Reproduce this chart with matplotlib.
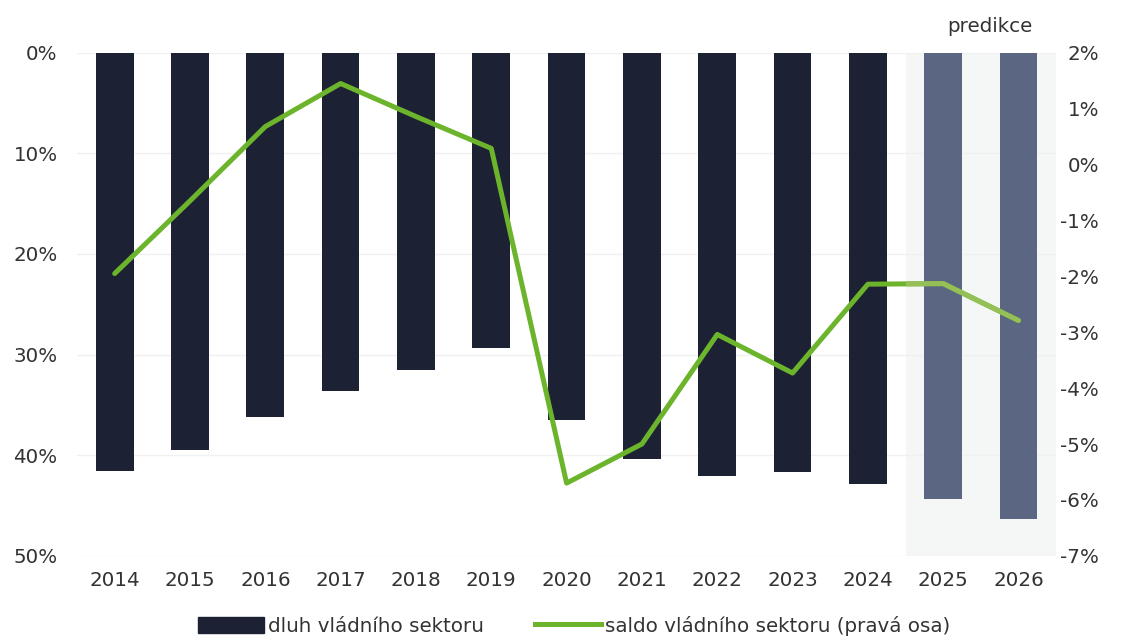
import matplotlib.pyplot as plt
from matplotlib.patches import Patch, Rectangle
from matplotlib.lines import Line2D

plt.rcParams['font.family'] = ['DejaVu Sans']

years = ['2014', '2015', '2016', '2017', '2018', '2019', '2020',
         '2021', '2022', '2023', '2024', '2025', '2026']
# dluh vládního sektoru (% HDP), levá osa
dluh = [41.6, 39.5, 36.2, 33.6, 31.5, 29.3, 36.5, 40.4, 42.1, 41.7, 42.9, 44.4, 46.3]
# saldo vládního sektoru (% HDP), pravá osa
saldo = [-1.95, -0.65, 0.68, 1.45, 0.86, 0.29, -5.7, -5.0, -3.04, -3.73, -2.14, -2.13, -2.79]
n_forecast = 2

dark = '#1d2134'
slate = '#5b6782'
green = '#6cb42c'
green_light = '#95c057'
txt = '#333333'
fs = 14.3

fig = plt.figure(figsize=(11.26, 6.44), dpi=100)
ax = fig.add_axes([0.0684, 0.137, 0.8696, 0.781])
x = list(range(len(years)))
n_hist = len(years) - n_forecast

# podbarvení predikce
ax.axvspan(n_hist - 0.5, len(years) - 0.5, color='#f4f7f5', zorder=0, lw=0)

colors = [dark] * n_hist + [slate] * n_forecast
ax.bar(x, dluh, width=0.5, color=colors, zorder=2)
ax.set_ylim(50, 0)
ax.set_xlim(-0.5, len(years) - 0.5)
ax.set_yticks([0, 10, 20, 30, 40, 50])
ax.set_yticklabels(['0%', '10%', '20%', '30%', '40%', '50%'])
ax.set_xticks(x)
ax.set_xticklabels(years)
ax.grid(axis='y', color='#f0f0f0', lw=1, zorder=1)
ax.set_axisbelow(True)
ax.tick_params(axis='y', length=0, pad=14, labelsize=fs, colors=txt)
ax.tick_params(axis='x', length=0, pad=11, labelsize=fs, colors=txt)
for s in ax.spines.values():
    s.set_visible(False)

ax2 = ax.twinx()
ax2.set_ylim(-7, 2)
ax2.set_yticks(range(-7, 3))
ax2.set_yticklabels(['%d%%' % v for v in range(-7, 3)])
ax2.tick_params(axis='y', length=0, pad=31, labelsize=fs, colors=txt)
for lab in ax2.get_yticklabels():
    lab.set_horizontalalignment('right')
for s in ax2.spines.values():
    s.set_visible(False)

ax2.plot(x, saldo, color=green, lw=3.6, solid_capstyle='round',
         solid_joinstyle='round', zorder=3)
# světlejší část čáry v oblasti predikce
fc_line, = ax2.plot(x, saldo, color=green_light, lw=3.6, solid_capstyle='round',
                    solid_joinstyle='round', zorder=4)
clip = Rectangle((n_hist - 0.5, -7), n_forecast, 9, transform=ax2.transData)
fc_line.set_clip_path(clip)

fig.text(990 / 1126, 1 - 27 / 644, 'predikce', ha='center', va='center',
         fontsize=fs, color=txt)

handles = [Patch(color=dark), Line2D([0], [0], color=green, lw=3.6)]
fig.legend(handles, ['dluh vládního sektoru', 'saldo vládního sektoru (pravá osa)'],
           loc='center', bbox_to_anchor=(0.51, 0.028), ncol=2, frameon=False,
           fontsize=fs, handlelength=3.3, handleheight=0.9, handletextpad=0.2,
           columnspacing=2.6, labelcolor=txt, borderpad=0.2)

fig.savefig('out.png', dpi=100)
